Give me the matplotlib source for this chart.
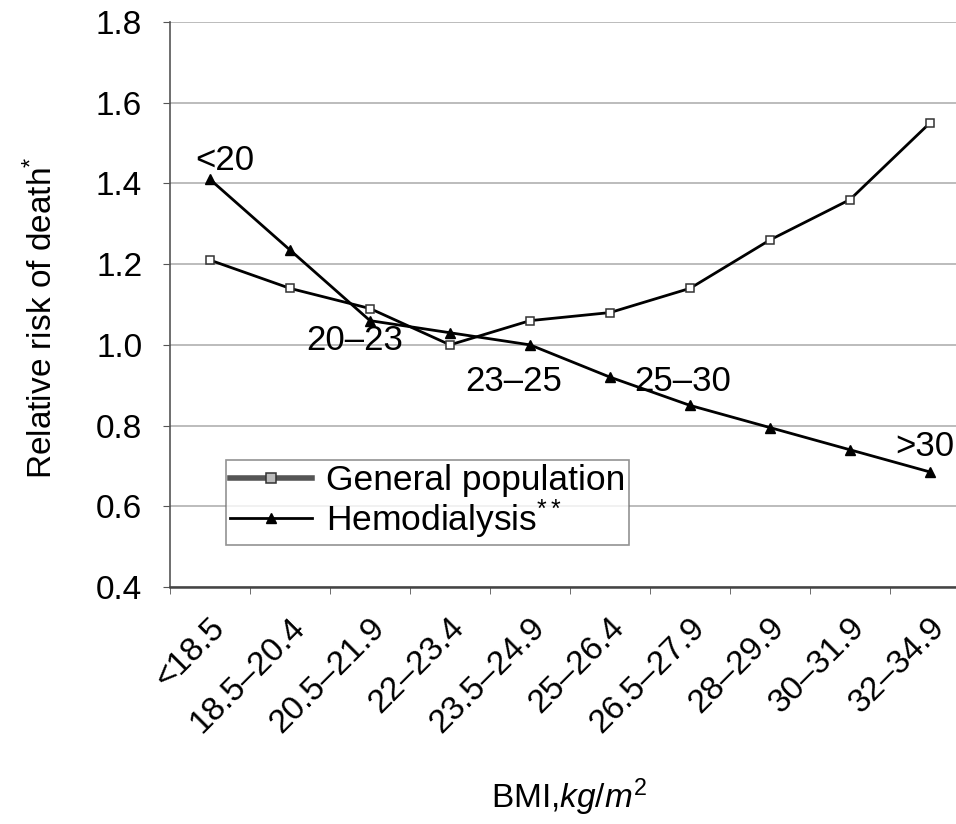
import matplotlib
matplotlib.use("Agg")
import matplotlib.pyplot as plt
import matplotlib.transforms as mtransforms
from matplotlib.lines import Line2D

plt.rcParams['font.family'] = ['Liberation Sans', 'DejaVu Sans']
plt.rcParams['mathtext.fontset'] = 'custom'
plt.rcParams['mathtext.rm'] = 'Liberation Sans'
plt.rcParams['mathtext.it'] = 'Liberation Sans:italic'

categories = ['<18.5', '18.5–20.4', '20.5–21.9', '22–23.4', '23.5–24.9',
              '25–26.4', '26.5–27.9', '28–29.9', '30–31.9', '32–34.9']
general_population = [1.21, 1.14, 1.09, 1.00, 1.06, 1.08, 1.14, 1.26, 1.36, 1.55]
hemodialysis = [1.41, 1.235, 1.06, 1.03, 1.00, 0.92, 0.85, 0.795, 0.74, 0.685]
y_ticks = [0.4, 0.6, 0.8, 1.0, 1.2, 1.4, 1.6, 1.8]
annotations = ['<20', '20–23', '23–25', '25–30', '>30']
annotation_x = [0.19, 1.81, 3.79, 5.91, 8.93]
annotation_y = [1.458, 1.012, 0.91, 0.91, 0.747]

W, H = 956, 824
fig = plt.figure(figsize=(W / 100, H / 100), dpi=100)
ax = fig.add_axes([170 / W, (H - 587) / H, 800 / W, 565 / H])

x = list(range(len(categories)))
ax.plot(x, general_population, color='black', lw=2.0, marker='s', ms=6,
        mfc='white', mec='#333333', mew=1.1, zorder=3)
ax.plot(x, hemodialysis, color='black', lw=2.0, marker='^', ms=7.5,
        mfc='black', mec='black', zorder=3)

ax.set_xlim(-0.5, len(categories) - 0.5)
ax.set_ylim(0.4, 1.8)
ax.set_yticks(y_ticks)
ax.set_yticklabels([f'{v:.1f}' for v in y_ticks], fontsize=24)
ax.yaxis.grid(True, color='#b0b0b0', lw=1.2)
ax.set_axisbelow(True)

ax.set_xticks(x)
ax.set_xticklabels(categories, rotation=45, ha='right', va='top', fontsize=24)
ax.tick_params(axis='x', which='major', length=0, pad=18)
offset = mtransforms.ScaledTranslation(0.21, 0, fig.dpi_scale_trans)
for lab in ax.get_xticklabels():
    lab.set_transform(lab.get_transform() + offset)
ax.set_xticks([i - 0.5 for i in range(len(categories) + 1)], minor=True)
ax.tick_params(axis='x', which='minor', length=5, color='#555555')
ax.tick_params(axis='y', length=5, color='#555555', pad=15)

for s in ['top', 'right']:
    ax.spines[s].set_visible(False)
ax.spines['left'].set_color('#555555')
ax.spines['left'].set_linewidth(1.2)
ax.spines['bottom'].set_color('#444444')
ax.spines['bottom'].set_linewidth(1.8)

for t, tx, ty in zip(annotations, annotation_x, annotation_y):
    ax.text(tx, ty, t, fontsize=25, ha='center', va='center')

fig.text(42 / W, 1 - 318 / H, 'Relative risk of death$^{*}$', rotation=90,
         fontsize=24, ha='center', va='center')
fig.text(569 / W, 1 - 797 / H, r'BMI,$\mathit{kg/m}^{2}$', fontsize=24,
         ha='center', va='center')

handles = [
    Line2D([], [], color='#555555', lw=4.0, marker='s', ms=7,
           mfc='#bbbbbb', mec='#333333', mew=1.1),
    Line2D([], [], color='black', lw=2.0, marker='^', ms=7.5,
           mfc='black', mec='black'),
]
labels = ['General population', 'Hemodialysis$^{**}$']
leg = ax.legend(handles, labels, loc='upper left',
                bbox_to_anchor=((226 - 170) / 800, (587 - 460) / 565),
                fontsize=25.5, frameon=True, fancybox=False, edgecolor='#777777',
                handlelength=2.3, handletextpad=0.4, borderpad=0.12,
                labelspacing=0.0, borderaxespad=0)
leg.get_frame().set_linewidth(1.2)

fig.savefig('out.png', dpi=100)
